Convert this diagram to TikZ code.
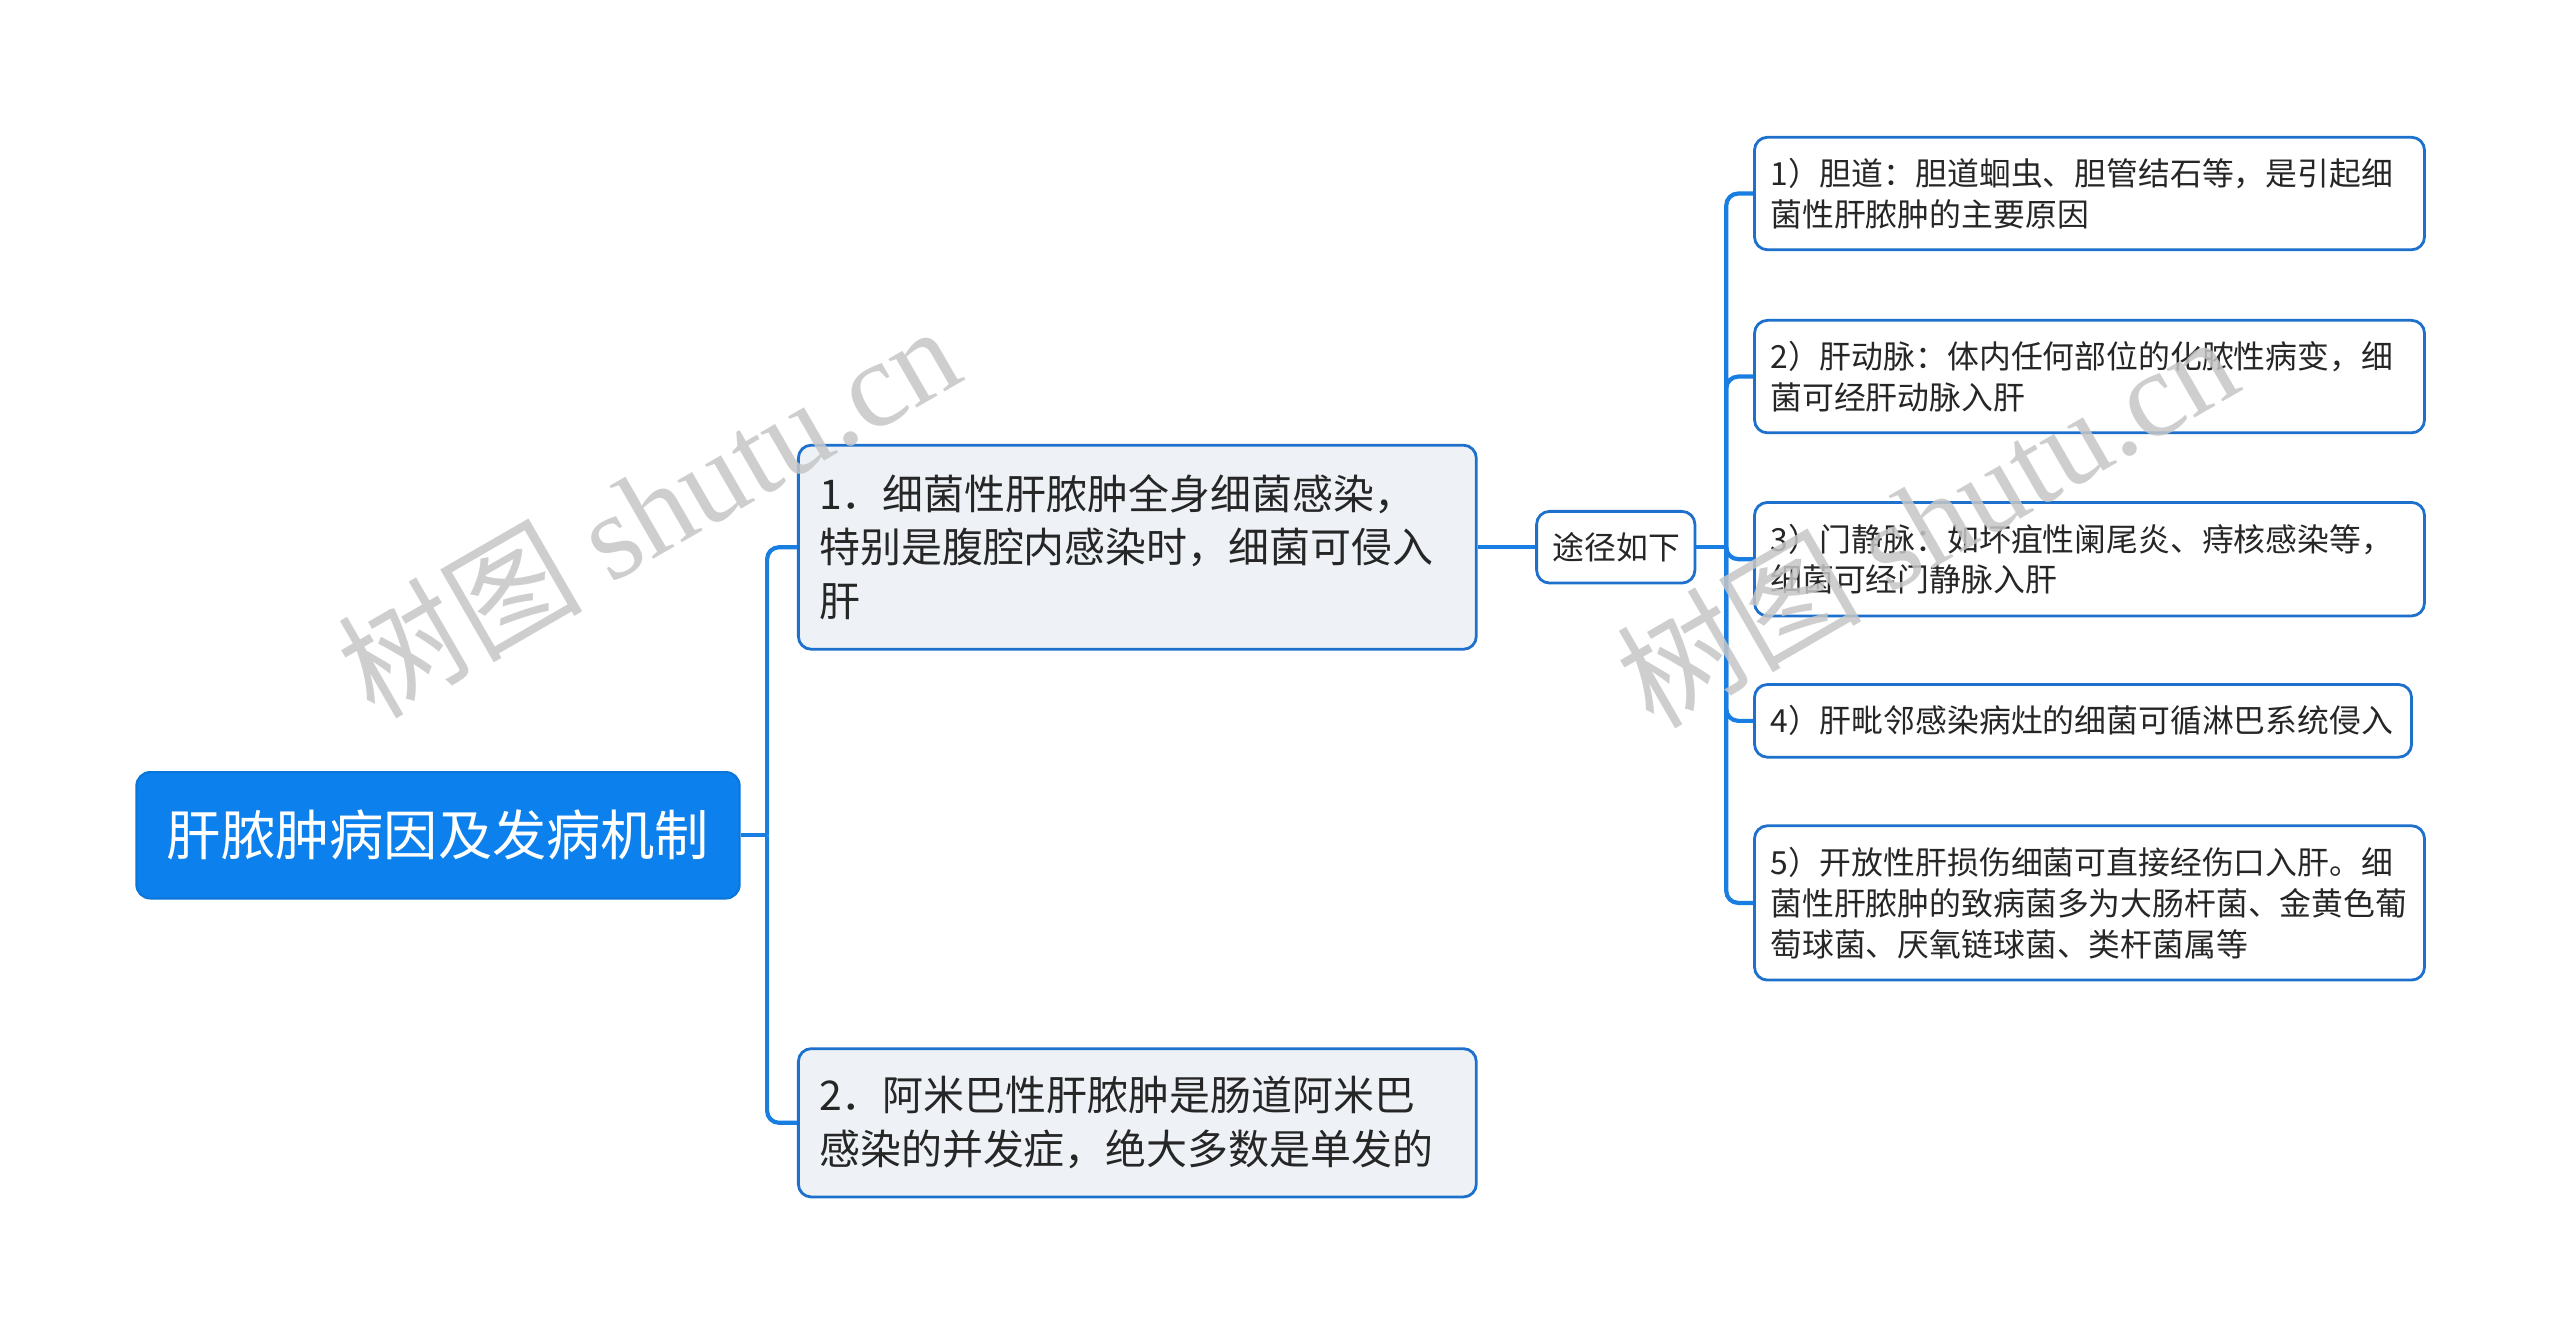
\documentclass[tikz,border=0pt]{standalone}
\usepackage{fontspec}
\setmainfont{Noto Sans CJK SC}            % police des noeuds
\newfontfamily\filigrane{Liberation Serif} % police du filigrane
\usepackage{tikz}
\usetikzlibrary{positioning}
\definecolor{bleu}{RGB}{12,128,236}
\definecolor{trait}{RGB}{24,126,226}
\definecolor{bord}{RGB}{30,112,205}
\definecolor{fond}{RGB}{238,242,246}

\begin{document}
\begin{tikzpicture}[x=0.01cm,y=-0.01cm,
racine/.style={anchor=west,rectangle,rounded corners=0.14cm,fill=bleu,draw=bleu!92!black,line width=0.6pt,
  text=white,minimum width=6.06cm,minimum height=1.27cm,font=\fontsize{15.5pt}{18pt}\selectfont},
branche/.style={anchor=west,rectangle,rounded corners=0.13cm,fill=fond,draw=bord,line width=0.8pt,
  align=left,inner xsep=0.21cm,text width=6.39cm,text=black!85,font=\fontsize{11.7pt}{15.4pt}\selectfont},
feuille/.style={anchor=west,rectangle,rounded corners=0.13cm,fill=white,draw=bord,line width=0.8pt,
  align=left,inner xsep=0.16cm,text width=6.41cm,text=black!85,font=\fontsize{9.1pt}{11.7pt}\selectfont},
lien/.style={draw=trait,line width=1.2pt,rounded corners=0.12cm}]
\useasboundingbox(0,0)rectangle(2573,1342);

\node[racine](R)at(136,839.5){肝脓肿病因及发病机制};
\node[branche,minimum height=2.05cm](B1)at(801,550){1．细菌性肝脓肿全身细菌感染，\\特别是腹腔内感染时，细菌可侵入\\肝};
\node[branche,minimum height=1.49cm](B2)at(801,1128.5){2．阿米巴性肝脓肿是肠道阿米巴\\感染的并发症，绝大多数是单发的};
\node[feuille,text width=1.27cm,align=center,minimum height=0.72cm](V)at(1543,550){途径如下};

\node[feuille,minimum height=1.13cm](F1)at(1762,194.5){1）胆道：胆道蛔虫、胆管结石等，是引起细\\菌性肝脓肿的主要原因};
\node[feuille,minimum height=1.13cm](F2)at(1762,378.5){2）肝动脉：体内任何部位的化脓性病变，细\\菌可经肝动脉入肝};
\node[feuille,minimum height=1.14cm](F3)at(1762,562){3）门静脉：如坏疽性阑尾炎、痔核感染等，\\细菌可经门静脉入肝};
\node[feuille,text width=6.28cm,minimum height=0.73cm](F4)at(1762,724.5){4）肝毗邻感染病灶的细菌可循淋巴系统侵入};
\node[feuille,minimum height=1.55cm](F5)at(1762,907.5){5）开放性肝损伤细菌可直接经伤口入肝。细\\菌性肝脓肿的致病菌多为大肠杆菌、金黄色葡\\萄球菌、厌氧链球菌、类杆菌属等};

% connecteurs
\coordinate(J0)at(771,839.5);
\draw[lien](R.east)--(J0);
\foreach \b in {B1,B2}{\draw[lien](J0)|-(\b.west);}
\draw[lien](B1.east)--(V.west);
\coordinate(J1)at(1735,550);
\draw[lien](V.east)--(J1);
\foreach \f in {F1,F2,F3,F4,F5}{\draw[lien](J1)|-(\f.west);}

% filigrane
\node[rotate=30,text=gray!45,opacity=0.85,font=\fontsize{35pt}{40pt}\selectfont](W1)at(651,512){树图 {\filigrane shutu.cn}};
\node[rotate=30,text=gray!45,opacity=0.85,font=\fontsize{35pt}{40pt}\selectfont](W2)at(1936,522){树图 {\filigrane shutu.cn}};
\end{tikzpicture}
\end{document}
